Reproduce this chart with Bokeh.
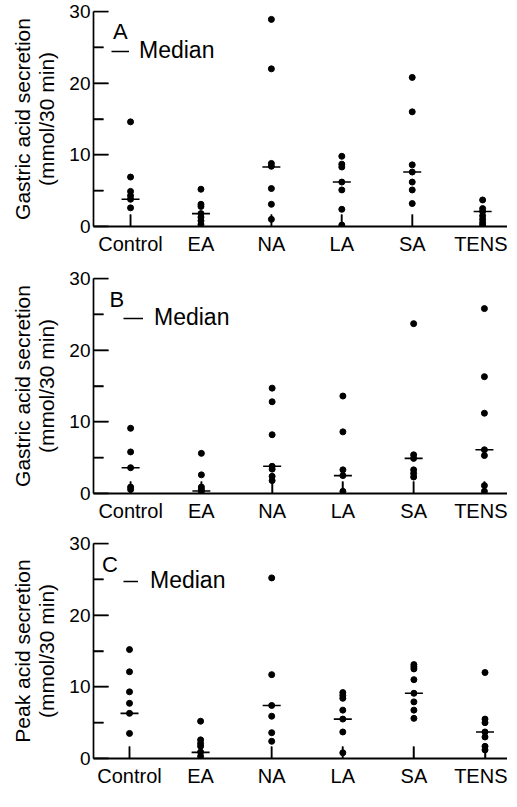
from bokeh.plotting import figure
from bokeh.models import Range1d, FixedTicker, Label, Legend, LegendItem
from bokeh.layouts import column
from bokeh.embed import file_html
from bokeh.resources import INLINE
import math

categories = ["Control", "EA", "NA", "LA", "SA", "TENS"]
y_ticks = [0, 10, 20, 30]
y_minor_ticks = [5, 15, 25]

# Panel A: gastric acid secretion
a_control = [14.6, 6.9, 4.9, 4.3, 3.8, 2.6]
a_ea = [5.2, 3.1, 2.8, 1.8, 1.3, 0.8, 0.3]
a_na = [28.9, 22.0, 8.8, 8.4, 5.3, 3.1, 1.0]
a_la = [9.8, 8.7, 8.3, 6.2, 5.1, 2.4, 0.2]
a_sa = [20.8, 16.0, 8.6, 7.6, 6.2, 5.1, 3.2]
a_tens = [3.7, 2.5, 2.1, 1.5, 1.0, 0.55, 0.2]
a_medians = [3.8, 1.8, 8.3, 6.2, 7.6, 2.1]

# Panel B: gastric acid secretion
b_control = [9.1, 5.8, 3.6, 0.9, 0.55]
b_ea = [5.6, 2.6, 0.9, 0.55, 0.3]
b_na = [14.7, 12.8, 8.2, 3.8, 3.4, 2.4, 1.8]
b_la = [13.6, 8.6, 3.3, 2.5, 0.3]
b_sa = [23.7, 5.4, 4.9, 3.3, 2.8, 2.3]
b_tens = [25.8, 16.3, 11.2, 6.1, 5.3, 1.1, 0.3]
b_medians = [3.6, 0.35, 3.8, 2.5, 4.9, 6.1]

# Panel C: peak acid secretion
c_control = [15.2, 12.1, 9.3, 7.7, 6.3, 3.5]
c_ea = [5.2, 2.6, 2.1, 1.7, 0.9, 0.3]
c_na = [25.2, 11.7, 7.4, 5.9, 3.6, 2.4]
c_la = [9.2, 8.8, 8.4, 6.75, 5.5, 3.7, 0.8]
c_sa = [13.1, 12.8, 12.5, 11.0, 9.1, 7.9, 6.75, 5.6]
c_tens = [12.0, 5.5, 5.0, 3.7, 3.0, 1.7, 1.2]
c_medians = [6.3, 0.86, 7.4, 5.5, 9.1, 3.7]

FONT = "Liberation Sans"
FIG_W = 507
SPACING = 71.1
FRAME_H = 215
BORDER_TOP = 11
NAN = float("nan")


def make_panel(letter, ylabel, groups, medians, height, b_left, b_bottom,
               ctrl_offset, leg_xy, glyph_w, leg_standoff, letter_xy):
    frame_w = FIG_W - b_left
    x_start = -ctrl_offset / SPACING
    x_end = x_start + frame_w / SPACING
    y_per_px = 30.0 / FRAME_H
    p = figure(width=FIG_W, height=height, output_backend="svg",
               toolbar_location=None,
               x_range=Range1d(x_start, x_end), y_range=Range1d(0, 30),
               min_border_left=b_left, min_border_right=0,
               min_border_top=BORDER_TOP, min_border_bottom=b_bottom)
    p.outline_line_color = None
    p.grid.visible = False
    p.background_fill_color = None

    # inward tick marks (drawn at the axes' tick positions)
    p.scatter([x_start + 7.5 / SPACING] * len(y_ticks), y_ticks, marker="dash",
              size=15, line_width=1.5, line_color="black")
    p.scatter([x_start + 5.0 / SPACING] * len(y_minor_ticks), y_minor_ticks,
              marker="dash", size=10, line_width=1.5, line_color="black")
    p.scatter(list(range(len(categories))), [6 * y_per_px] * len(categories),
              marker="dash", angle=math.pi / 2, size=12, line_width=1.5,
              line_color="black")

    xs, ys = [], []
    for i, vals in enumerate(groups):
        xs += [i] * len(vals)
        ys += vals
    p.scatter(xs, ys, size=6, color="black")
    p.scatter(list(range(len(categories))), medians, marker="dash", size=18,
              line_width=1.6, line_color="black")

    # legend key only (no data drawn in the frame)
    key = p.line(x=[NAN], y=[NAN], line_color="black", line_width=1.5)
    legend = Legend(items=[LegendItem(label="Median", renderers=[key])],
                    location=leg_xy, padding=0, margin=0, spacing=0,
                    glyph_width=glyph_w, glyph_height=26, label_height=26,
                    label_standoff=leg_standoff,
                    label_text_font=FONT, label_text_font_size="23px",
                    label_text_color="black",
                    border_line_color=None, background_fill_alpha=0)
    p.add_layout(legend)

    p.add_layout(Label(x=letter_xy[0], y=letter_xy[1], x_units="screen",
                       y_units="screen", text=letter, text_font=FONT,
                       text_font_size="22px", text_color="black",
                       text_baseline="alphabetic"))

    xa = p.xaxis[0]
    xa.ticker = FixedTicker(ticks=list(range(len(categories))))
    xa.major_label_overrides = {i: c for i, c in enumerate(categories)}
    xa.major_tick_in = 12
    xa.major_tick_out = 0
    xa.minor_tick_in = 0
    xa.minor_tick_out = 0
    xa.axis_line_width = 2
    xa.axis_line_color = "black"
    xa.major_tick_line_width = 1.5
    xa.major_tick_line_color = "black"
    xa.major_label_text_font = FONT
    xa.major_label_text_font_size = "20px"
    xa.major_label_standoff = 6
    xa.major_label_text_color = "black"

    ya = p.yaxis[0]
    ya.ticker = FixedTicker(ticks=y_ticks, minor_ticks=y_minor_ticks)
    ya.major_tick_in = 15
    ya.major_tick_out = 0
    ya.minor_tick_in = 10
    ya.minor_tick_out = 0
    ya.axis_line_width = 1.7
    ya.axis_line_color = "black"
    ya.major_tick_line_width = 1.5
    ya.major_tick_line_color = "black"
    ya.minor_tick_line_width = 1.5
    ya.minor_tick_line_color = "black"
    ya.major_label_text_font = FONT
    ya.major_label_text_font_size = "19px"
    ya.major_label_standoff = 3
    ya.major_label_text_color = "black"
    ya.axis_label = ylabel
    ya.axis_label_text_font = FONT
    ya.axis_label_text_font_size = "21px"
    ya.axis_label_text_font_style = "normal"
    ya.axis_label_text_color = "black"
    ya.axis_label_standoff = 8
    ya.axis_label_text_line_height = 1.05
    return p


pa = make_panel("A", "Gastric acid secretion\n(mmol/30 min)",
                [a_control, a_ea, a_na, a_la, a_sa, a_tens], a_medians,
                267, 89, 41, 37.4, (18, 162), 18, 10, (19.5, 195))
pb = make_panel("B", "Gastric acid secretion\n(mmol/30 min)",
                [b_control, b_ea, b_na, b_la, b_sa, b_tens], b_medians,
                265, 91, 39, 37.3, (30, 162), 20, 11, (16, 194))
pc = make_panel("C", "Peak acid secretion\n(mmol/30 min)",
                [c_control, c_ea, c_na, c_la, c_sa, c_tens], c_medians,
                258, 93, 32, 36.0, (30, 164), 15, 12, (8.5, 194))

layout = column(pa, pb, pc, spacing=0)
open("out.html", "w").write(file_html(layout, INLINE))
